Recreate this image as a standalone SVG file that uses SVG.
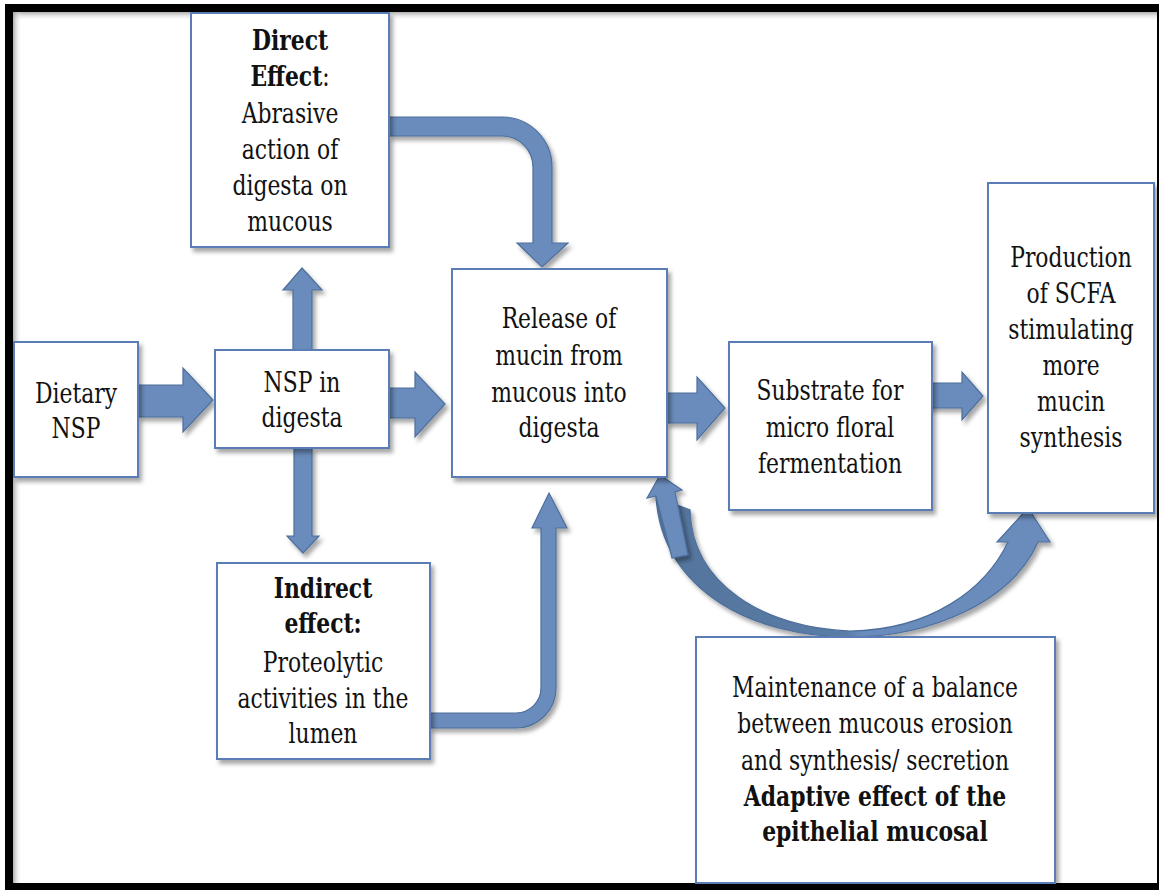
<svg xmlns="http://www.w3.org/2000/svg" width="1159" height="890" viewBox="0 0 1159 890">
<style>
.box{fill:#ffffff;stroke:#5a7db5;stroke-width:2;filter:url(#sh)}
.arr{fill:#6a8cbc;stroke:#4d6f9c;stroke-width:1.2;filter:url(#sh)}
.t{font-family:"DejaVu Serif","Liberation Serif",serif;font-size:27px;fill:#111;text-anchor:middle}
.b{font-weight:bold}
</style>
<defs>
<filter id="sh" x="-20%" y="-20%" width="140%" height="140%">
<feDropShadow dx="3" dy="4" stdDeviation="2" flood-color="#000" flood-opacity="0.35"/>
</filter>
<linearGradient id="gt" x1="0" y1="0" x2="0" y2="1"><stop offset="0" stop-color="#999" stop-opacity="0.8"/><stop offset="1" stop-color="#fff" stop-opacity="0"/></linearGradient>
<linearGradient id="gl" x1="0" y1="0" x2="1" y2="0"><stop offset="0" stop-color="#999" stop-opacity="0.8"/><stop offset="1" stop-color="#fff" stop-opacity="0"/></linearGradient>
<linearGradient id="gc" gradientUnits="userSpaceOnUse" x1="657" y1="0" x2="1050" y2="0"><stop offset="0" stop-color="#53749c"/><stop offset="0.48" stop-color="#5a7ca6"/><stop offset="0.52" stop-color="#6a8cbc"/><stop offset="1" stop-color="#6a8cbc"/></linearGradient>
</defs>
<rect x="0" y="0" width="1159" height="890" fill="#ffffff"/>
<rect x="13" y="12" width="1144" height="9" fill="url(#gt)"/>
<rect x="13" y="12" width="9" height="871" fill="url(#gl)"/>
<rect x="9" y="8" width="1152" height="879" fill="none" stroke="#000" stroke-width="8"/>
<g id="connectors">
<polygon class="arr" points="138,385 183,385 183,368 213,400 183,432 183,417 138,417"/>
<polygon class="arr" points="389,388 415,388 415,372 445,404 415,437 415,418 389,418"/>
<polygon class="arr" points="293,350 293,290 283,290 302,268 322,290 312,290 312,350"/>
<polygon class="arr" points="294,448 312,448 312,536 319,536 303,553 287,536 294,536"/>
<polygon class="arr" points="667,393 697,393 697,377 725,408 697,440 697,423 667,423"/>
<polygon class="arr" points="927,383 962,383 962,372 983,396 962,420 962,408 927,408"/>
<path class="arr" d="M389,117 L502,117 A50,50 0 0 1 552,167 L552,243 L568,243 L542,267 L517,243 L533,243 L533,167 A31,31 0 0 0 502,136 L389,136 Z"/>
<path class="arr" d="M430,713 L516,713 A25,25 0 0 0 541,688 L541,528 L532,528 L549,493 L567,528 L556,528 L556,688 A40,40 0 0 1 516,728 L430,728 Z"/>
<path class="arr" style="fill:url(#gc)" d="M690,510 C692,585 765,628 850,631 C930,630 985,590 1008,542 L997,542 L1028,508 L1050,542 L1038,542 C1012,602 930,637 850,637 C755,637 662,592 656,497 Z"/>
<polygon class="arr" points="660,475 682,490 675,492 688,555 672,558 656,496 647,498"/>
</g>
<g id="direct">
<rect class="box" x="191" y="13" width="198" height="234"/>
<g transform="translate(290,0) scale(0.81,1)">
<text class="t b" x="0" y="50">Direct</text>
<text class="t" x="0" y="86"><tspan class="b">Effect</tspan>:</text>
<text class="t" x="0" y="123">Abrasive</text>
<text class="t" x="0" y="159">action of</text>
<text class="t" x="0" y="195">digesta on</text>
<text class="t" x="0" y="231">mucous</text>
</g>
</g>
<g id="dietary">
<rect class="box" x="14" y="342" width="124" height="135"/>
<g transform="translate(76,0) scale(0.81,1)">
<text class="t" x="0" y="403">Dietary</text>
<text class="t" x="0" y="438">NSP</text>
</g>
</g>
<g id="nsp">
<rect class="box" x="215" y="350" width="174" height="98"/>
<g transform="translate(302,0) scale(0.81,1)">
<text class="t" x="0" y="392">NSP in</text>
<text class="t" x="0" y="427">digesta</text>
</g>
</g>
<g id="indirect">
<rect class="box" x="217" y="563" width="213" height="196"/>
<g transform="translate(323,0) scale(0.81,1)">
<text class="t b" x="0" y="598">Indirect</text>
<text class="t b" x="0" y="633">effect:</text>
<text class="t" x="0" y="672">Proteolytic</text>
<text class="t" x="0" y="708">activities in the</text>
<text class="t" x="0" y="743">lumen</text>
</g>
</g>
<g id="release">
<rect class="box" x="452" y="269" width="215" height="208"/>
<g transform="translate(559,0) scale(0.81,1)">
<text class="t" x="0" y="328">Release of</text>
<text class="t" x="0" y="365">mucin from</text>
<text class="t" x="0" y="402">mucous into</text>
<text class="t" x="0" y="437">digesta</text>
</g>
</g>
<g id="substrate">
<rect class="box" x="729" y="342" width="203" height="168"/>
<g transform="translate(830,0) scale(0.81,1)">
<text class="t" x="0" y="400">Substrate for</text>
<text class="t" x="0" y="437">micro floral</text>
<text class="t" x="0" y="473">fermentation</text>
</g>
</g>
<g id="production">
<rect class="box" x="988" y="183" width="166" height="330"/>
<g transform="translate(1071,0) scale(0.81,1)">
<text class="t" x="0" y="267">Production</text>
<text class="t" x="0" y="303">of SCFA</text>
<text class="t" x="0" y="339">stimulating</text>
<text class="t" x="0" y="375">more</text>
<text class="t" x="0" y="411">mucin</text>
<text class="t" x="0" y="447">synthesis</text>
</g>
</g>
<g id="maintenance">
<rect class="box" x="696" y="637" width="359" height="246"/>
<g transform="translate(875,0) scale(0.81,1)">
<text class="t" x="0" y="697">Maintenance of a balance</text>
<text class="t" x="0" y="733">between mucous erosion</text>
<text class="t" x="0" y="770">and synthesis/ secretion</text>
<text class="t b" x="0" y="806">Adaptive effect of the</text>
<text class="t b" x="0" y="841">epithelial mucosal</text>
</g>
</g>
</svg>
